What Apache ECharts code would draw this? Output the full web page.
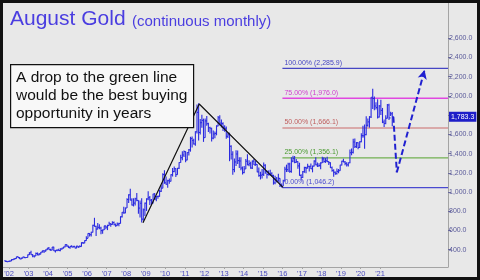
<!DOCTYPE html>
<html><head><meta charset="utf-8">
<script src="https://cdn.jsdelivr.net/npm/echarts@6/dist/echarts.min.js"></script>
<style>html,body{margin:0;padding:0;background:#e8e8e8}#c{width:480px;height:280px}</style>
</head><body><div id="c"></div>
<script>
// monthly bars starting Oct 2001
const startYear = 2001, startMonth = 10;
const highs = [
293,284,281,
287,301,304,310,327,331,323,316,327,325,323,349,
373,390,355,340,372,371,366,376,392,394,401,417,
427,410,428,432,394,404,410,414,420,431,455,457,
441,439,447,438,437,442,439,447,477,479,498,540,
572,575,586,660,732,650,677,665,640,610,650,650,
660,690,677,695,694,672,683,680,748,792,848,840,
935,976,1033,935,935,940,990,915,912,935,830,890,
935,1007,960,928,983,990,960,965,1024,1070,1195,1227,
1162,1127,1140,1185,1250,1266,1247,1250,1310,1388,1425,1432,
1425,1413,1448,1575,1577,1555,1632,1912,1923,1760,1804,1764,
1765,1792,1720,1680,1670,1640,1630,1695,1790,1798,1755,1725,
1695,1683,1618,1618,1487,1425,1348,1434,1433,1362,1362,1267,
1270,1345,1392,1332,1315,1327,1345,1322,1290,1255,1211,1240,
1308,1290,1225,1225,1233,1205,1180,1170,1157,1191,1143,1088,
1127,1263,1285,1305,1304,1362,1377,1375,1345,1320,1305,1185,
1220,1264,1262,1295,1272,1297,1275,1330,1362,1307,1300,1310,
1366,1362,1355,1366,1320,1310,1265,1238,1214,1245,1240,1285,
1326,1346,1324,1310,1308,1442,1453,1555,1557,1520,1517,1528,
1611,1689,1704,1788,1765,1790,1985,2075,1995,1933,1966,1906,
1959,1875,1755,1798,1915,1919,1835,1832];
const lows = [
278,272,272,
277,282,289,299,307,316,302,300,312,313,315,318,
344,345,322,318,335,342,341,352,370,366,379,396,
399,390,395,386,372,384,388,385,399,413,425,430,
418,411,425,422,414,414,417,428,432,460,468,492,
518,538,537,580,640,543,613,613,560,567,604,612,
604,648,640,660,655,640,648,645,672,735,775,780,
833,885,915,860,850,860,905,775,735,682,700,750,
803,915,866,865,880,920,905,930,950,1000,1040,1085,
1075,1045,1087,1110,1162,1205,1157,1180,1240,1305,1330,1365,
1310,1330,1380,1420,1463,1495,1482,1610,1535,1600,1668,1522,
1565,1690,1625,1610,1527,1548,1560,1590,1685,1692,1672,1635,
1627,1555,1562,1321,1338,1180,1207,1270,1292,1251,1226,1182,
1195,1240,1280,1268,1242,1240,1281,1273,1205,1160,1131,1142,
1167,1191,1142,1173,1169,1162,1077,1080,1098,1107,1052,1046.2,
1062,1110,1208,1208,1200,1200,1310,1300,1305,1242,1170,1123,
1145,1200,1195,1245,1215,1240,1205,1265,1278,1260,1265,1237,
1302,1305,1303,1312,1282,1250,1211,1160,1180,1182,1196,1222,
1275,1310,1280,1266,1267,1300,1384,1400,1459,1459,1446,1458,
1517,1564,1450,1590,1680,1670,1770,1863,1850,1860,1764,1775,
1802,1717,1677,1705,1765,1750,1790,1685];
const closes = [
279,275,279,
282,297,302,308,326,318,304,312,324,317,319,347,
368,347,334,336,361,346,354,375,388,386,398,416,
400,396,427,388,393,394,391,408,416,429,453,438,
422,435,428,435,417,437,429,433,473,470,495,518,
569,556,582,654,643,614,633,626,599,606,648,635,
651,669,663,683,659,650,666,673,743,789,783,834,
923,971,916,865,885,930,913,833,884,718,815,884,
928,942,916,883,980,927,954,955,1008,1040,1182,1096,
1081,1118,1113,1180,1213,1244,1181,1248,1307,1357,1386,1421,
1333,1411,1439,1556,1536,1500,1628,1828,1620,1722,1746,1566,
1740,1711,1669,1664,1561,1604,1610,1687,1773,1717,1712,1675,
1663,1579,1596,1476,1393,1234,1313,1396,1327,1323,1250,1202,
1240,1321,1284,1296,1250,1322,1282,1287,1210,1171,1175,1184,
1279,1213,1183,1182,1190,1172,1095,1135,1115,1142,1065,1061,
1117,1238,1233,1291,1215,1322,1349,1309,1316,1272,1173,1152,
1211,1254,1249,1268,1268,1242,1270,1322,1283,1271,1275,1303,
1345,1318,1325,1316,1305,1253,1224,1206,1192,1215,1222,1282,
1321,1313,1298,1283,1305,1409,1413,1520,1472,1513,1464,1523,
1587,1585,1597,1694,1730,1781,1986,1973,1895,1879,1780,1895,
1850,1728,1713,1768,1906,1771,1814,1783.3];
const lastPrice = 1783.3;
const yearTicks = [2002,2003,2004,2005,2006,2007,2008,2009,2010,2011,2012,2013,2014,2015,2016,2017,2018,2019,2020,2021];
const priceTicks = [400,600,800,1000,1200,1400,1600,1800,2000,2200,2400,2600];
const fibLevels = [2285.9,1976.0,1666.1,1356.1,1046.2];
const fibNames = ['100.00%','75.00%','50.00%','25.00%','0.00%'];
const fibColors = ['#4646c4','#e048e0','#d49494','#72b052','#4a4ad0'];
const fibTextColors = ['#4646c4','#d040d0','#c06060','#4a9a30','#4a4ad0'];
const fibStart = 2016.0;
const trendPts = [[2008.86,681],[2011.74,1916],[2016.03,1049]];
const projPts = [[2021.68,1783],[2021.86,1205],[2023.28,2270]];

const xMin = 2001.69, xMax = 2024.48;
const bars = highs.map((h,i)=>[startYear + (startMonth-1+i+0.5)/12, lows[i], h, closes[i]]);
const fmt = v => v.toLocaleString('en-US',{minimumFractionDigits:1,maximumFractionDigits:1});
const FONT = '"Liberation Sans", Arial, sans-serif';
const CLEAR = 'rgba(0,0,0,0)';

const chart = echarts.init(document.getElementById('c'), null, {renderer:'canvas'});
const series = [];
series.push({
  type:'custom', data:bars, z:3, clip:true,
  encode:{x:0,y:[1,2]},
  renderItem:(params, api)=>{
    const x = api.value(0);
    const lo = api.coord([x, api.value(1)]);
    const hi = api.coord([x, api.value(2)]);
    const cl = api.coord([x, api.value(3)]);
    const st = {stroke:'#2a2ae0', lineWidth:1.1};
    return {type:'group', children:[
      {type:'line', shape:{x1:lo[0],y1:lo[1],x2:hi[0],y2:hi[1]}, style:st},
      {type:'line', shape:{x1:cl[0],y1:cl[1],x2:cl[0]+1.6,y2:cl[1]}, style:st}
    ]};
  },
  markLine:{
    silent:true, symbol:['none','none'],
    lineStyle:{color:CLEAR, width:1},
    label:{show:true, position:'end', distance:1, formatter:()=>fmt(lastPrice),
      color:'#ffffff', backgroundColor:'#1e1ec8', padding:[2,2,1,2], fontSize:7, fontFamily:FONT},
    data:[{yAxis:lastPrice}]
  }
});
fibLevels.forEach((v,i)=>{
  series.push({
    type:'line', data:[[fibStart,v],[xMax,v]], symbol:'none', z:2,
    lineStyle:{color:fibColors[i], width:1.3}, silent:true,
    markLine:{silent:true, symbol:['none','none'], lineStyle:{color:CLEAR, width:1},
      label:{show:true, position:'insideStartTop', distance:[2,2], formatter:()=>fibNames[i]+' ('+fmt(v)+')',
        color:fibTextColors[i], fontSize:7, fontFamily:FONT},
      data:[[{coord:[fibStart,v]},{coord:[xMax,v]}]]}
  });
});
series.push({type:'line', data:trendPts, symbol:'none', z:4, lineStyle:{color:'#111', width:1.2}, silent:true});
series.push({type:'line', data:projPts.slice(0,2), symbol:'none', z:5,
  lineStyle:{color:'#2020d0', width:2, type:[6,3]}, silent:true,
  markLine:{silent:true, symbol:['none','arrow'], symbolSize:[7,9],
    lineStyle:{color:'#2020d0', width:2, type:[6,3]}, label:{show:false},
    data:[[{coord:projPts[1]},{coord:projPts[2]}]]}
});

chart.setOption({
  backgroundColor:'#e8e8e8',
  animation:false,
  grid:{left:3, right:32, top:3, bottom:13},
  xAxis:{type:'value', min:xMin, max:xMax,
    axisLine:{show:true, lineStyle:{color:'#a4a4a4', width:1}},
    splitLine:{show:false},
    axisTick:{show:true, customValues:yearTicks, length:2, inside:false, lineStyle:{color:'#a4a4a4'}},
    axisLabel:{customValues:yearTicks, formatter:v=>"'"+String(Math.round(v)).slice(2), color:'#4c4cc0', fontSize:7.5, margin:3, fontFamily:FONT}
  },
  yAxis:{type:'value', position:'right', min:220, max:2967,
    axisLine:{show:true, lineStyle:{color:'#a4a4a4', width:1}},
    splitLine:{show:false},
    axisTick:{show:true, customValues:priceTicks, length:3, lineStyle:{color:'#6a6a9a'}},
    axisLabel:{customValues:priceTicks, formatter:v=>fmt(v), color:'#5a5a9a', fontSize:7, margin:1, fontFamily:FONT}
  },
  series:series,
  graphic:[
    {type:'text', left:10, top:9, style:{text:'August Gold', fill:'#4a3de0', font:'21px '+FONT}},
    {type:'text', left:132, top:14, style:{text:'(continuous monthly)', fill:'#4a3de0', font:'15px '+FONT}},
    {type:'rect', left:10, top:64, shape:{width:183, height:63}, style:{fill:'#f8f8f8', stroke:'#111', lineWidth:1.2}, z:10},
    {type:'text', left:16, top:69, z:11, style:{text:'A drop to the green line\nwould be the best buying\nopportunity in years', fill:'#111', font:'15.5px '+FONT, lineHeight:18}},
    {type:'rect', shape:{x:0,y:0,width:480,height:280}, style:{fill:'none', stroke:'#111', lineWidth:6}, z:20, silent:true}
  ]
});
</script></body></html>
